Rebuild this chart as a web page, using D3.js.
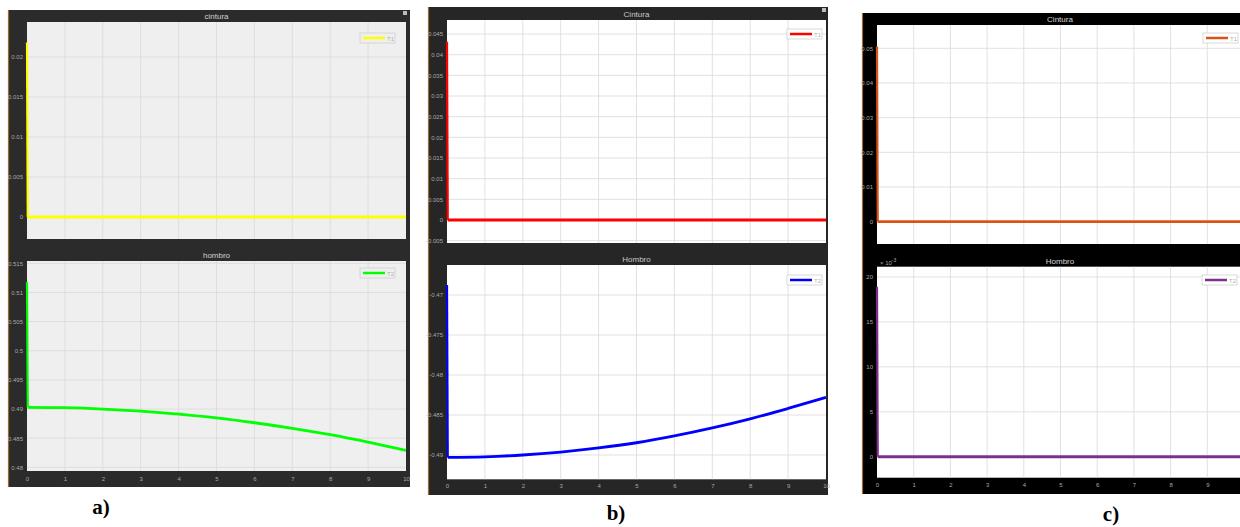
<!DOCTYPE html>
<html><head><meta charset="utf-8">
<script src="https://cdn.jsdelivr.net/npm/d3@7"></script>
<style>body{margin:0;background:#fff;}svg{display:block;}</style>
</head><body>
<svg id="c" width="1240" height="527"></svg>
<script>
// ---- data ----
const time = [0, 0.02, 1, 2, 3, 4, 5, 6, 7, 8, 9, 10];
const xTicks = [0,1,2,3,4,5,6,7,8,9,10];
const aCintura = [0.0218, 0, 0, 0, 0, 0, 0, 0, 0, 0, 0, 0];
const aHombro  = [0.5118, 0.4903, 0.49023, 0.49, 0.48963, 0.48912, 0.48847, 0.48765, 0.4867, 0.4856, 0.48432, 0.4829];
const bCintura = [0.0431, 0, 0, 0, 0, 0, 0, 0, 0, 0, 0, 0];
const bHombro  = [-0.46875, -0.4903, -0.49023, -0.49, -0.48963, -0.48912, -0.48847, -0.48762, -0.48662, -0.48548, -0.48418, -0.4828];
const cCintura = [0.0505, 0, 0, 0, 0, 0, 0, 0, 0, 0, 0, 0];
const cHombro  = [18.9, 0, 0, 0, 0, 0, 0, 0, 0, 0, 0, 0]; // x 10^-3
const aCinturaTicks = [0, 0.005, 0.01, 0.015, 0.02];
const aHombroTicks = [0.48, 0.485, 0.49, 0.495, 0.5, 0.505, 0.51, 0.515];
const bCinturaTicks = [-0.005, 0, 0.005, 0.01, 0.015, 0.02, 0.025, 0.03, 0.035, 0.04, 0.045];
const bHombroTicks = [-0.49, -0.485, -0.48, -0.475, -0.47];
const cCinturaTicks = [0, 0.01, 0.02, 0.03, 0.04, 0.05];
const cHombroTicks = [0, 5, 10, 15, 20];

// ---- layout ----
const svg = d3.select("#c");
const FONT = "Liberation Sans, Arial, sans-serif";
const panels = [
  { frame:[8,10,402,477], frameBg:"#2b2b2b", plotBg:"#efefef", titleCol:"#d0d0d0", label:"a)", labelPos:[101,514],
    xr:[27,406], xTickY:482, icon:[403,11],
    subs:[
      { title:"cintura", titleY:19, yr:[239,22], dom:[-0.00275,0.024375], ticks:aCinturaTicks, vals:aCintura, color:"#ffff00", name:"T1", leg:[360,33] },
      { title:"hombro", titleY:258, yr:[471,261], dom:[0.47937,0.5154], ticks:aHombroTicks, vals:aHombro, color:"#00ff00", name:"T2", leg:[360,268] }
    ]},
  { frame:[428,7,400,488], frameBg:"#262626", plotBg:"#ffffff", titleCol:"#c8c8c8", label:"b)", labelPos:[616,520],
    xr:[447,826], xTickY:489, icon:[822,8],
    subs:[
      { title:"Cintura", titleY:17, yr:[243,20], dom:[-0.00556,0.04839], ticks:bCinturaTicks, vals:bCintura, color:"#ff0000", name:"T1", leg:[787,29] },
      { title:"Hombro", titleY:262, yr:[479.3,265], dom:[-0.49304,-0.46625], ticks:bHombroTicks, vals:bHombro, color:"#0000ff", name:"T2", leg:[787,275] }
    ]},
  { frame:[862,13,400,481], frameBg:"#000000", plotBg:"#ffffff", titleCol:"#d8d8d8", label:"c)", labelPos:[1111,521],
    xr:[877,1244], xTickY:488, icon:null, titleX:1060,
    subs:[
      { title:"Cintura", titleY:22, yr:[244,25], dom:[-0.00643,0.05672], ticks:cCinturaTicks, vals:cCintura, color:"#d95319", name:"T1", leg:[1203,33] },
      { title:"Hombro", titleY:264, yr:[477.7,266.7], dom:[-2.33,21.14], ticks:cHombroTicks, vals:cHombro, color:"#7e2f8e", name:"T2", leg:[1202,275], exp:true }
    ]}
];

panels.forEach(p => {
  const g = svg.append("g");
  const [fx,fy,fw,fh] = p.frame;
  g.append("rect").attr("x",fx).attr("y",fy).attr("width",fw).attr("height",fh).attr("fill",p.frameBg);
  g.append("line").attr("x1",fx+0.5).attr("x2",fx+0.5).attr("y1",fy).attr("y2",fy+fh).attr("stroke","#9a6a30").attr("stroke-width",1.2);
  if (p.icon) g.append("rect").attr("x",p.icon[0]).attr("y",p.icon[1]).attr("width",4).attr("height",4).attr("fill","#bbbbbb");
  const x = d3.scaleLinear().domain([0,10]).range(p.xr);
  const titleX = p.titleX || (p.xr[0]+p.xr[1])/2;
  p.subs.forEach((s, si) => {
    const y = d3.scaleLinear().domain(s.dom).range(s.yr);
    const [y0, y1] = [s.yr[1], s.yr[0]];
    g.append("rect").attr("x",p.xr[0]).attr("y",y0).attr("width",p.xr[1]-p.xr[0]).attr("height",y1-y0).attr("fill",p.plotBg);
    // grid
    g.append("g").selectAll("line").data(xTicks.slice(1,-1)).join("line")
      .attr("x1",d=>x(d)).attr("x2",d=>x(d)).attr("y1",y0).attr("y2",y1)
      .attr("stroke","#d9d9d9").attr("stroke-width",0.8);
    g.append("g").selectAll("line").data(s.ticks).join("line")
      .attr("x1",p.xr[0]).attr("x2",p.xr[1]).attr("y1",d=>y(d)).attr("y2",d=>y(d))
      .attr("stroke","#d9d9d9").attr("stroke-width",0.8);
    // y axis labels
    const ya = d3.axisLeft(y).tickValues(s.ticks).tickSize(0).tickPadding(4).tickFormat(d => String(+d.toFixed(4)));
    const yg = g.append("g").attr("transform",`translate(${p.xr[0]},0)`).call(ya);
    yg.select(".domain").remove();
    yg.selectAll("text").attr("fill","#a8a8a8").attr("font-size","6px").attr("font-family",FONT);
    // title
    g.append("text").attr("x",titleX).attr("y",s.titleY)
      .attr("text-anchor","middle").attr("font-size","8px").attr("fill",p.titleCol)
      .attr("font-family",FONT).text(s.title);
    if (s.exp) {
      const t = g.append("text").attr("x",p.xr[0]+3).attr("y",y0-2).attr("font-size","6px").attr("fill","#a8a8a8")
        .attr("font-family",FONT);
      t.append("tspan").text("\u00d7 10");
      t.append("tspan").attr("dy",-3).attr("font-size","5px").text("-3");
    }
    // line: initial spike (linear) + smooth remainder
    const pts = time.map((t,i)=>[t, s.vals[i]]);
    const spike = d3.line().x(d=>x(d[0])).y(d=>y(d[1]));
    const smooth = d3.line().x(d=>x(d[0])).y(d=>y(d[1])).curve(d3.curveCatmullRom);
    g.append("path").datum(pts.slice(1)).attr("d",smooth).attr("fill","none").attr("stroke",s.color)
      .attr("stroke-width",2.8).attr("stroke-linejoin","round");
    g.append("path").datum(pts.slice(0,2)).attr("d",spike).attr("fill","none").attr("stroke",s.color)
      .attr("stroke-width",2.2).attr("stroke-linecap","butt");
    // legend
    const [lx,ly] = s.leg;
    g.append("rect").attr("x",lx).attr("y",ly).attr("width",35).attr("height",10)
      .attr("fill",p.plotBg).attr("stroke","#cfcfcf").attr("stroke-width",0.8);
    g.append("line").attr("x1",lx+3).attr("x2",lx+25).attr("y1",ly+5).attr("y2",ly+5).attr("stroke",s.color).attr("stroke-width",2.5);
    g.append("text").attr("x",lx+27).attr("y",ly+7.5).attr("font-size","6px").attr("fill","#b0b0b0")
      .attr("font-family",FONT).text(s.name);
  });
  // x axis labels (bottom)
  const xa = d3.axisBottom(x).tickValues(xTicks).tickSize(0).tickPadding(0).tickFormat(d3.format("d"));
  const xg = g.append("g").attr("transform",`translate(0,${p.xTickY-5})`).call(xa);
  xg.select(".domain").remove();
  xg.selectAll("text").attr("fill","#a8a8a8").attr("font-size","6px").attr("font-family",FONT);
  // panel label
  svg.append("text").attr("x",p.labelPos[0]).attr("y",p.labelPos[1]).attr("text-anchor","middle")
    .attr("font-family","Liberation Serif, Times New Roman, serif").attr("font-weight","bold").attr("font-size","21px")
    .attr("fill","#000").text(p.label);
});
</script>
</body></html>
